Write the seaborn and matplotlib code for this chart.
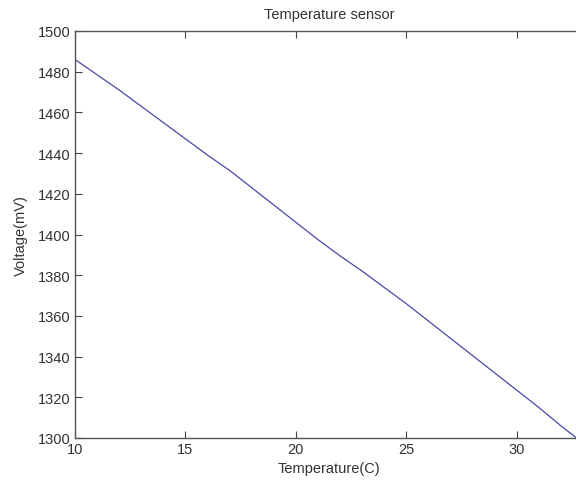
import matplotlib
matplotlib.use('Agg')
import matplotlib.pyplot as plt
import pandas as pd
import seaborn as sns

sns.set_theme(style='ticks')
plt.rcParams['font.family'] = ['Liberation Sans', 'DejaVu Sans']

# readings taken off the reference curve
temperature = [10, 11, 12, 13, 14, 15, 16, 17, 18, 19, 20, 21,
               22, 23, 24, 25, 26, 27, 28, 29, 30, 31, 32, 33]
voltage = [1486, 1478.5, 1471, 1463, 1455, 1447, 1439, 1431.5, 1423, 1414.5, 1406, 1397.5,
           1389.5, 1382, 1374, 1366, 1357.5, 1349, 1340.5, 1332, 1323.5, 1315, 1306, 1297.5]
x_ticks = [10, 15, 20, 25, 30]
y_ticks = list(range(1300, 1501, 20))

df = pd.DataFrame({'Temperature(C)': temperature, 'Voltage(mV)': voltage})

fig = plt.figure(figsize=(5.76, 4.81), dpi=100)
# right edge of the axes sits just past the image, as in the reference
ax = fig.add_axes([75 / 576, 42 / 481, 508 / 576, 407 / 481])

sns.lineplot(data=df, x='Temperature(C)', y='Voltage(mV)', ax=ax,
             color='#4848a8', linewidth=0.9)

ax.set_xlim(10, 33)
ax.set_ylim(1300, 1500)
ax.set_xticks(x_ticks)
ax.set_yticks(y_ticks)

txt = '#333333'
ax.tick_params(direction='in', length=5, width=0.8, colors='#444444',
               labelcolor=txt, labelsize=10.5, top=True, right=True, pad=3)
for sp in ax.spines.values():
    sp.set_visible(True)
    sp.set_color('#555555')
    sp.set_linewidth(1.0)

ax.set_xlabel('Temperature(C)', fontsize=10.5, color=txt, labelpad=3.5)
ax.set_ylabel('Voltage(mV)', fontsize=10.5, color=txt, labelpad=7)
ax.set_title('Temperature sensor', fontsize=10.5, color=txt, pad=9)

fig.savefig('out.png', dpi=100)
